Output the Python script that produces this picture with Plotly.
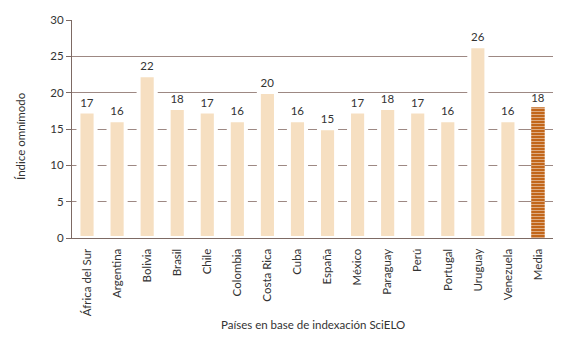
import plotly.graph_objects as go

paises = ["África del Sur", "Argentina", "Bolivia", "Brasil", "Chile", "Colombia",
          "Costa Rica", "Cuba", "España", "México", "Paraguay", "Perú", "Portugal",
          "Uruguay", "Venezuela", "Media"]
indice = [17.4, 16.2, 22.4, 17.9, 17.4, 16.2, 20.1, 16.2, 15.1, 17.4, 17.9, 17.4,
          16.2, 26.4, 16.2, 18.0]
etiquetas = ["17", "16", "22", "18", "17", "16", "20", "16", "15", "17", "18", "17",
             "16", "26", "16", "18"]
y_ticks = [0, 5, 10, 15, 20, 25, 30]

n = len(paises)
colors = ["#f6dfc1"] * (n - 1) + ["#c2661a"]
line_colors = ["white"] * (n - 1) + ["#9a4a0c"]
line_widths = [4] * (n - 1) + [0]
patterns = [""] * (n - 1) + ["-"]

FONT = "Lato, 'Open Sans', sans-serif"

fig = go.Figure()
fig.add_trace(go.Bar(
    x=paises, y=indice, text=etiquetas, textposition="outside",
    textfont=dict(size=11.5, color="#333333", family=FONT),
    cliponaxis=False,
    width=[0.57] * (n - 1) + [0.45],
    marker=dict(color=colors,
                line=dict(color=line_colors, width=line_widths),
                pattern=dict(shape=patterns, fgcolor="#9a4508", size=3, solidity=0.3,
                             fillmode="overlay")),
))

# page body has an 8px default margin, so the figure is drawn 8px smaller
fig.update_layout(
    width=559, height=332,
    margin=dict(l=64, r=14, t=12, b=102, autoexpand=False),
    paper_bgcolor="white", plot_bgcolor="white",
    showlegend=False,
    font=dict(family=FONT, size=11.5, color="#333333"),
    xaxis=dict(
        tickangle=-90, tickfont=dict(size=11.5, family=FONT, color="#333333"),
        showgrid=False, showline=True, linecolor="#7d6a64", linewidth=1.2,
        ticks="", ticklabelstandoff=5, range=[-0.5, n - 0.5], automargin=False,
    ),
    yaxis=dict(
        range=[0, 30], tickvals=y_ticks, showgrid=True, gridcolor="#9d8883",
        gridwidth=1.2, showline=True, linecolor="#7d6a64", linewidth=1,
        ticks="outside", ticklen=5, tickcolor="#7d6a64", automargin=False,
        tickfont=dict(size=11.5, family=FONT, color="#333333"), zeroline=False,
    ),
    annotations=[
        dict(text="Países en base de indexación SciELO", xref="paper", yref="paper",
             x=0.5, y=0, xanchor="center", yanchor="middle", yshift=-86,
             showarrow=False, font=dict(size=11.5, family=FONT, color="#333333")),
        dict(text="Índice omnímodo", xref="paper", yref="paper",
             x=0, y=0.5, xshift=-52, yshift=-7, textangle=-90,
             xanchor="center", yanchor="middle",
             showarrow=False, font=dict(size=11.5, family=FONT, color="#333333")),
    ],
)

fig.write_html("out.html")
